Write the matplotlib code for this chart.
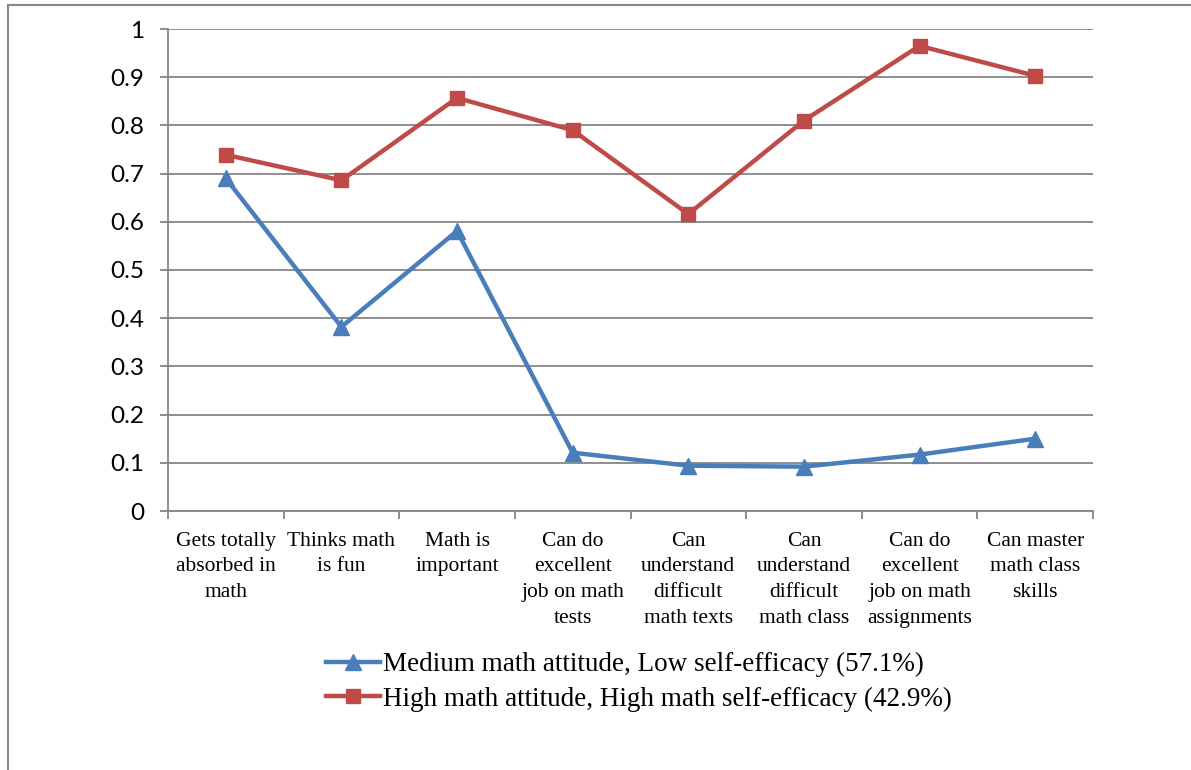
import matplotlib
matplotlib.use("Agg")
import matplotlib.pyplot as plt
from matplotlib.lines import Line2D
import numpy as np

categories = [
    "Gets totally\nabsorbed in\nmath",
    "Thinks math\nis fun",
    "Math is\nimportant",
    "Can do\nexcellent\njob on math\ntests",
    "Can\nunderstand\ndifficult\nmath texts",
    "Can\nunderstand\ndifficult\nmath class",
    "Can do\nexcellent\njob on math\nassignments",
    "Can master\nmath class\nskills",
]
medium_low = [0.69, 0.382, 0.581, 0.121, 0.094, 0.092, 0.117, 0.150]
high_high = [0.739, 0.686, 0.857, 0.790, 0.616, 0.810, 0.965, 0.903]
series_names = [
    "Medium math attitude, Low self-efficacy (57.1%)",
    "High math attitude, High math self-efficacy (42.9%)",
]
yticks = [0, 0.1, 0.2, 0.3, 0.4, 0.5, 0.6, 0.7, 0.8, 0.9, 1]
ytick_labels = ["0", "0.1", "0.2", "0.3", "0.4", "0.5", "0.6", "0.7", "0.8", "0.9", "1"]

BLUE = "#4A7EBB"
RED = "#BE4B48"
GRID = "#868686"

fig = plt.figure(figsize=(11.91, 7.70), dpi=100)

# outer frame (left and top edges)
fig.add_artist(Line2D([8 / 1191, 8 / 1191], [0, 1 - 5 / 770], color=GRID, lw=1.5,
                      transform=fig.transFigure))
fig.add_artist(Line2D([8 / 1191, 1], [1 - 5 / 770, 1 - 5 / 770], color=GRID, lw=1.5,
                      transform=fig.transFigure))

ax = fig.add_axes([168 / 1191, 1 - 511 / 770, (1093 - 168) / 1191, (511 - 29) / 770])

x = np.arange(len(categories))
ax.plot(x, medium_low, color=BLUE, lw=3.2, marker="^", markersize=11,
        markerfacecolor=BLUE, markeredgecolor=BLUE, label=series_names[0], zorder=3)
ax.plot(x, high_high, color=RED, lw=3.2, marker="s", markersize=9.5,
        markerfacecolor=RED, markeredgecolor=RED, label=series_names[1], zorder=3)

ax.set_xlim(-0.5, len(categories) - 0.5)
ax.set_ylim(0, 1)
ax.set_yticks(yticks)
ax.set_yticklabels(ytick_labels, fontsize=17.5, family="Lato")
ax.yaxis.grid(True, color=GRID, lw=1.3)
ax.set_axisbelow(True)

ax.set_xticks(x)
ax.set_xticklabels(categories, fontsize=15.5, family="Liberation Serif", linespacing=1.47)
ax.tick_params(axis="x", which="major", length=0, pad=15)
ax.set_xticks(np.arange(-0.5, len(categories)), minor=True)
ax.tick_params(axis="x", which="minor", length=6, color=GRID, width=1.3)
ax.tick_params(axis="y", length=6, color=GRID, width=1.3, pad=11)

for s in ["top", "right"]:
    ax.spines[s].set_visible(False)
for s in ["left", "bottom"]:
    ax.spines[s].set_color(GRID)
    ax.spines[s].set_linewidth(1.3)

leg = fig.legend(loc="upper left", bbox_to_anchor=(326 / 1191, 1 - 652 / 770),
                 frameon=False, prop={"family": "Liberation Serif", "size": 19.5},
                 handlelength=2.0, handletextpad=0.1, labelspacing=0.35,
                 borderpad=0, borderaxespad=0)

fig.savefig("out.png", dpi=100)
